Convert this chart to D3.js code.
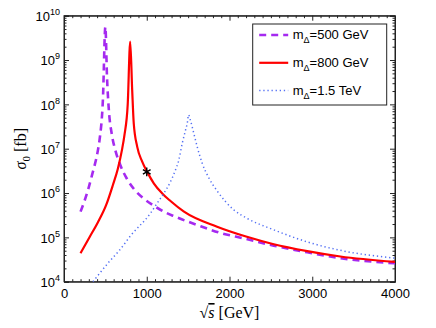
<!DOCTYPE html>
<html>
<head>
<meta charset="utf-8">
<script src="https://cdn.jsdelivr.net/npm/d3@7"></script>
<style>
  body { margin: 0; background: #fff; }
  svg { display: block; }
  .tick text { font-family: "Liberation Sans", Arial, sans-serif; font-size: 13px; fill: #000; }
  .tick line, .domain { stroke: #222; }
</style>
</head>
<body>
<div id="chart"></div>
<script>
// series: sqrt(s) in GeV, sigma_0 in fb
const sqrtS500 = [200, 290, 340, 410, 430, 470, 500, 520, 541, 580, 620, 680, 760, 850, 960, 1085, 1220, 1330, 1610, 1890, 2170, 2535, 2940, 3340, 4000];
const sigma500 = [3.8e5, 1.17e6, 2.6e6, 9.3e6, 1.6e7, 1.26e8, 5.6e9, 4.0e8, 7.9e7, 2.0e7, 9.3e6, 4.3e6, 2.1e6, 1.2e6, 7.6e5, 5.2e5, 3.7e5, 3.0e5, 1.9e5, 1.26e5, 9.5e4, 6.5e4, 4.6e4, 3.4e4, 2.6e4];

const sqrtS800 = [200, 310, 410, 510, 590, 650, 700, 730, 770, 800, 824, 843, 885, 945, 1005, 1085, 1187, 1287, 1450, 1850, 2210, 2535, 2940, 3340, 4000];
const sigma800 = [4.4e4, 1.02e5, 2.2e5, 5.4e5, 1.5e6, 3.5e6, 9.3e6, 2.0e7, 1.0e8, 2.6e9, 2.1e8, 3.7e7, 1.1e7, 5.1e6, 3.0e6, 1.66e6, 9.8e5, 6.6e5, 3.8e5, 1.74e5, 1.03e5, 7.0e4, 4.9e4, 3.7e4, 2.8e4];

const sqrtS1500 = [350, 530, 670, 810, 1045, 1126, 1206, 1287, 1347, 1387, 1428, 1468, 1489, 1505, 1526, 1569, 1610, 1670, 1750, 1850, 2050, 2210, 2535, 2940, 3340, 4000];
const sigma1500 = [1.0e4, 2.6e4, 5.1e4, 1.12e5, 3.5e5, 5.9e5, 9.8e5, 1.8e6, 3.3e6, 5.5e6, 1.3e7, 2.6e7, 3.7e7, 5.8e7, 4.5e7, 2.2e7, 1.1e7, 4.7e6, 2.2e6, 1.12e6, 4.2e5, 2.7e5, 1.48e5, 7.9e4, 5.1e4, 3.4e4];

const seriesNames = ["500 GeV", "800 GeV", "1.5 TeV"];
const starPoint = [1000, 3.0e6];

const xTicks = [0, 1000, 2000, 3000, 4000];
const yExponents = [4, 5, 6, 7, 8, 9, 10];

const width = 436, height = 328;
const margin = {top: 15.7, right: 41, bottom: 46.3, left: 64};
const w = width - margin.left - margin.right;
const h = height - margin.top - margin.bottom;

const series = [
  {name: seriesNames[0], x: sqrtS500, y: sigma500, color: "#a52af0", width: 2.6, dash: "7,5"},
  {name: seriesNames[1], x: sqrtS800, y: sigma800, color: "#ff0000", width: 2.2, dash: null},
  {name: seriesNames[2], x: sqrtS1500, y: sigma1500, color: "#5470f4", width: 1.5, dash: "1.3,2.8"}
];

const x = d3.scaleLinear().domain([0, 4000]).range([0, w]);
const y = d3.scaleLog().domain([1e4, 1e10]).range([h, 0]);

const svg = d3.select("#chart").append("svg")
  .attr("width", width)
  .attr("height", height);

const g = svg.append("g")
  .attr("transform", `translate(${margin.left},${margin.top})`);

g.append("defs").append("clipPath")
    .attr("id", "plot-clip")
  .append("rect")
    .attr("width", w)
    .attr("height", h);

// minor ticks
const minorY = [];
yExponents.slice(0, -1).forEach(e => {
  for (let k = 2; k <= 9; k++) minorY.push(k * Math.pow(10, e));
});
const minorX = d3.range(0, 4001, 100).filter(v => v % 1000 !== 0);

g.append("g").call(d3.axisLeft(y).tickValues(minorY).tickSize(-2.5).tickFormat(""))
  .call(a => a.select(".domain").remove());
g.append("g").attr("transform", `translate(${w},0)`)
  .call(d3.axisRight(y).tickValues(minorY).tickSize(-2.5).tickFormat(""))
  .call(a => a.select(".domain").remove());
g.append("g").attr("transform", `translate(0,${h})`)
  .call(d3.axisBottom(x).tickValues(minorX).tickSize(-2.5).tickFormat(""))
  .call(a => a.select(".domain").remove());
g.append("g")
  .call(d3.axisTop(x).tickValues(minorX).tickSize(-2.5).tickFormat(""))
  .call(a => a.select(".domain").remove());

// major ticks
const yMajor = yExponents.map(e => Math.pow(10, e));
const yAxisG = g.append("g")
  .call(d3.axisLeft(y).tickValues(yMajor).tickSize(-5).tickPadding(4).tickFormat(""));
yAxisG.selectAll(".tick text")
  .attr("dy", "0.38em")
  .each(function(d) {
    const t = d3.select(this);
    t.append("tspan").text("10");
    t.append("tspan").text(Math.round(Math.log10(d)))
      .attr("font-size", "9px")
      .attr("dy", "-6");
  });
g.append("g").attr("transform", `translate(${w},0)`)
  .call(d3.axisRight(y).tickValues(yMajor).tickSize(-5).tickFormat(""));

g.append("g").attr("transform", `translate(0,${h})`)
  .call(d3.axisBottom(x).tickValues(xTicks).tickSize(-5).tickPadding(7).tickFormat(d3.format("d")));
g.append("g")
  .call(d3.axisTop(x).tickValues(xTicks).tickSize(-5).tickFormat(""));

// frame
g.append("rect")
  .attr("width", w)
  .attr("height", h)
  .attr("fill", "none")
  .attr("stroke", "#222")
  .attr("stroke-width", 1);

// curves
const line = d3.line()
  .x(d => x(d[0]))
  .y(d => y(d[1]))
  .curve(d3.curveMonotoneX);

const plot = g.append("g").attr("clip-path", "url(#plot-clip)");
plot.selectAll("path.curve")
  .data(series)
  .join("path")
  .attr("class", "curve")
  .attr("d", s => line(s.x.map((v, i) => [v, s.y[i]])))
  .attr("fill", "none")
  .attr("stroke", s => s.color)
  .attr("stroke-width", s => s.width)
  .attr("stroke-dasharray", s => s.dash);

// star marker
g.append("path")
  .attr("d", d3.symbol(d3.symbolAsterisk, 55)())
  .attr("transform", `translate(${x(starPoint[0])},${y(starPoint[1])})`)
  .attr("fill", "none")
  .attr("stroke", "#000")
  .attr("stroke-width", 1.4);

// legend
const legend = svg.append("g").attr("transform", "translate(252.7,24)");
legend.append("rect")
  .attr("width", 134)
  .attr("height", 81)
  .attr("fill", "#fff")
  .attr("stroke", "#222")
  .attr("stroke-width", 1);

const rows = legend.selectAll("g.row")
  .data(series)
  .join("g")
  .attr("class", "row")
  .attr("transform", (d, i) => `translate(0,${11 + i * 27.8})`);

rows.append("line")
  .attr("x1", 6.5).attr("x2", 35.5)
  .attr("stroke", s => s.color)
  .attr("stroke-width", s => s.width)
  .attr("stroke-dasharray", s => s.dash);

const lt = rows.append("text")
  .attr("x", 40)
  .attr("dy", "0.3em")
  .style("font-family", "'Liberation Sans', Arial, sans-serif")
  .style("font-size", "13px");
lt.append("tspan").text("m");
lt.append("tspan").text("Δ").attr("font-size", "9px").attr("dy", "4");
lt.append("tspan").text(s => "=" + s.name).attr("dy", "-4");

// axis titles
const xt = svg.append("text")
  .attr("x", margin.left + w / 2)
  .attr("y", 318)
  .attr("text-anchor", "middle")
  .style("font-family", "'Liberation Serif', 'Times New Roman', serif")
  .style("font-size", "16px");
xt.append("tspan").text("√");
xt.append("tspan").text("s").style("font-style", "italic").style("text-decoration", "overline");
xt.append("tspan").text(" [GeV]");

const yt = svg.append("text")
  .attr("transform", `translate(26,${margin.top + h / 2}) rotate(-90)`)
  .attr("text-anchor", "middle")
  .style("font-family", "'Liberation Serif', 'Times New Roman', serif")
  .style("font-size", "16px");
yt.append("tspan").text("σ").style("font-style", "italic");
yt.append("tspan").text("0").attr("font-size", "11px").attr("dy", "4");
yt.append("tspan").text(" [fb]").attr("dy", "-4");
</script>
</body>
</html>
